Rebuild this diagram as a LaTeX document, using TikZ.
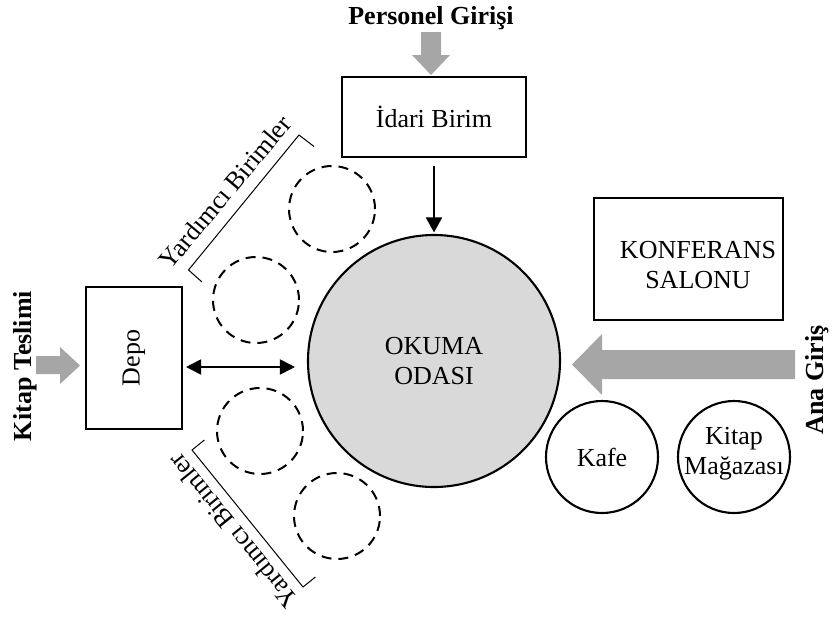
\documentclass[tikz,border=0pt]{standalone}
\usepackage{fontspec}
\setmainfont{Liberation Serif}
\usetikzlibrary{arrows.meta,calc}
\definecolor{arrgray}{RGB}{166,166,166}
\definecolor{roomgray}{RGB}{217,217,217}
\begin{document}
\begin{tikzpicture}[x=1pt,y=-1pt,
 txt/.style={font=\fontsize{26}{30}\selectfont, align=center, inner sep=0pt},
 btxt/.style={font=\fontsize{26}{30}\selectfont\bfseries, inner sep=0pt},
 box/.style={draw, line width=2.1pt, rectangle, inner sep=0pt},
 room/.style={draw, line width=2.1pt, circle, inner sep=0pt},
 aux/.style={draw, line width=2pt, circle, dash pattern=on 10pt off 7pt, minimum size=86pt, inner sep=0pt},
 conn/.style={line width=1.9pt, -{Triangle[length=15pt,width=16pt]}},
 dconn/.style={line width=1.9pt, {Triangle[length=15pt,width=15pt]}-{Triangle[length=15pt,width=15pt]}},
 brk/.style={draw, line width=1pt},
 garrow/.style={fill=arrgray, draw=none}
]
\useasboundingbox (0,0) rectangle (832,621);

% rooms
\node[box, txt, minimum width=184pt, minimum height=80pt] (idari) at (434,117) {İdari Birim};
\node[room, txt, fill=roomgray, minimum size=252pt] (okuma) at (434,361) {OKUMA\\ODASI};
\node[box, minimum width=96pt, minimum height=142pt] (depo) at (134,358) {};
\node[txt, rotate=90] (depotxt) at (depo.center) {Depo};
\node[box, minimum width=189pt, minimum height=122pt] (konf) at (688.5,259) {};
\node[txt] (konftxt) at (698,265) {KONFERANS\\SALONU};
\node[room, txt, minimum size=112pt] (kafe) at (602,457) {Kafe};
\node[room, minimum size=112pt] (magaza) at (734,457) {};
\node[txt] (magazatxt) at (734,454) {Kitap\\Mağazası};

% auxiliary units
\node[aux] (y1) at (332,209) {};
\node[aux] (y2) at (256,300) {};
\node[aux] (y3) at (260,431) {};
\node[aux] (y4) at (337,516) {};

% labels
\node[btxt] (personel) at (431,18) {Personel Girişi};
\node[btxt, rotate=90] (teslim) at (25,366) {Kitap Teslimi};
\node[btxt, rotate=90] (ana) at (817,380) {Ana Giriş};
\node[txt, rotate=50] (yb1) at (225,192) {Yardımcı Birimler};
\node[txt, rotate=129] (yb2) at (233,531) {Yardımcı Birimler};

% brackets
\draw[brk] (202,282) -- (188.5,270) -- (299,135) -- (314,146.5);
\draw[brk] (204.4,440) -- (192,450) -- (303,587) -- (315.4,577);

% connectors
\draw[conn, shorten >=1.5pt] ([yshift=-8pt]idari.south) -- (okuma.north);
\draw[dconn] ($(depo.east)+(3,9)$) -- ($(depo.east -| okuma.west)+(-12,9)$);

% grey entrance arrows
\fill[garrow] (421,32) -- (441,32) -- (441,55) -- (450,55) -- (431,75) -- (412,55) -- (421,55) -- cycle;
\fill[garrow] (36,356) -- (60,356) -- (60,347) -- (80,365.5) -- (60,384) -- (60,374) -- (36,374) -- cycle;
\fill[garrow] (795,350) -- (602,350) -- (602,334) -- (572,364.5) -- (602,395) -- (602,379) -- (795,379) -- cycle;
\end{tikzpicture}
\end{document}
